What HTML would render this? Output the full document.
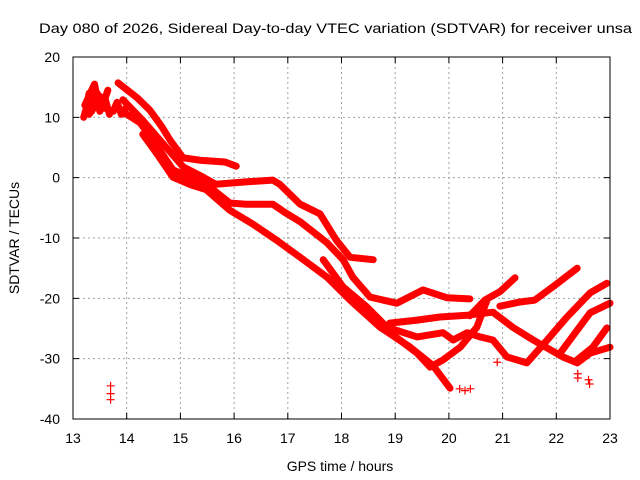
<!DOCTYPE html>
<html><head><meta charset="utf-8"><style>
html,body{margin:0;padding:0;background:#fff;}
svg{display:block;font-family:"Liberation Sans",sans-serif;}
</style></head><body>
<svg id="chart" width="640" height="480" viewBox="0 0 640 480">
<rect width="640" height="480" fill="#fff"/>
<text x="39" y="33" font-size="14" textLength="593" lengthAdjust="spacingAndGlyphs">Day 080 of 2026, Sidereal Day-to-day VTEC variation (SDTVAR) for receiver unsa</text>
<g id="grid"></g>
<g id="series"></g>
<g id="axes"></g>
<text x="340" y="471" font-size="14" text-anchor="middle">GPS time / hours</text>
<text x="0" y="0" font-size="14" text-anchor="middle" transform="translate(19,238) rotate(-90)">SDTVAR / TECUs</text>
</svg>
<script>
const xTicks = [13,14,15,16,17,18,19,20,21,22,23];
const yTicks = [20,10,0,-10,-20,-30,-40];
const traceNames = ['trace-1','trace-2','trace-3','trace-4','trace-5','trace-6','trace-7','trace-8','trace-9','trace-10','trace-11','blob-a','blob-b','blob-c','blob-d','blob-e'];
const traceHours = [
 [13.84,14.2,14.43,14.65,14.81,15.05,15.36,15.83,16.04],
 [13.93,14.3,14.62,15.05,15.4,15.66,16.22,16.72,16.85,17.23,17.60,17.90,18.16,18.59],
 [13.88,14.25,14.49,14.86,15.10,15.61,15.92,16.22,16.72,16.97,17.23,17.73,18.03,18.21,18.53,19.03,19.52,19.96,20.39],
 [14.30,14.6,14.86,15.2,15.48,15.92,16.35,16.78,17.23,17.73,18.16,18.72,19.28,19.70,20.02],
 [17.66,18.03,18.47,18.85,19.41,19.89,20.08,20.34,20.58,20.82,21.08,21.45,21.83,22.20,22.63,22.94],
 [17.84,18.21,18.77,19.41,19.65,19.89,20.21,20.52,20.71],
 [18.90,19.41,19.83,20.34,20.82,21.19,21.57,22.12,22.39,22.63,23.0],
 [20.39,20.67,20.95,21.23],
 [20.95,21.32,21.60,21.98,22.39],
 [22.07,22.63,23.0],
 [22.39,22.68,22.94],
 [13.2,13.3,13.35,13.45,13.55,13.65],
 [13.22,13.4,13.5,13.6,13.68],
 [13.75,13.82,13.9,13.98],
 [13.25,13.3,13.42,13.5,13.62],
 [13.3,13.38,13.48,13.58]
];
const traceValues = [
 [15.7,13.2,11.2,8.5,6.2,3.3,2.9,2.6,1.9],
 [12.9,9.5,6.2,1.8,0.2,-1.1,-0.7,-0.4,-1.1,-4.4,-6.0,-10.3,-13.2,-13.6],
 [11.2,9.1,6.2,1.3,0.4,-2.0,-4.2,-4.4,-4.4,-5.9,-7.3,-10.8,-13.6,-16.5,-19.8,-20.8,-18.6,-19.9,-20.1],
 [7.2,3.5,0.1,-1.2,-2.0,-5.4,-7.7,-10.3,-13.2,-16.5,-20.3,-24.8,-28.1,-31.1,-34.9],
 [-13.6,-18.1,-21.4,-24.8,-26.4,-25.7,-26.9,-25.7,-26.4,-26.9,-29.7,-30.7,-26.9,-23.1,-19.1,-17.5],
 [-17.0,-20.3,-24.8,-29.1,-31.4,-30.2,-28.1,-24.8,-20.3],
 [-24.1,-23.6,-23.1,-22.8,-22.3,-24.8,-26.9,-29.7,-30.7,-29.1,-28.1],
 [-22.9,-20.3,-18.9,-16.6],
 [-21.3,-20.6,-20.3,-17.8,-15.0],
 [-29.1,-22.4,-20.8],
 [-30.2,-28.1,-24.9],
 [10,13,11,14,12,14.5],
 [12,15.5,11,13,10.5],
 [11,12.5,10.5,11.5],
 [11.5,14,12.5,13.5,12],
 [10.5,11.5,13,11.5]
];
const pointHours = [13.7,13.7,13.7,20.2,20.3,20.4,20.9,22.4,22.4,22.6,22.62];
const pointValues = [-34.5,-35.8,-36.8,-35,-35.3,-35,-30.6,-32.5,-33.2,-33.5,-34.2];

const X0=73, X1=610, Y0=419, Y1=57;
function xs(h){return X0+(h-13)/(23-13)*(X1-X0);}
function ys(v){return Y0-(v-(-40))/(20-(-40))*(Y0-Y1);}
const NS='http://www.w3.org/2000/svg';
function mk(t,a){const e=document.createElementNS(NS,t);for(const k in a)e.setAttribute(k,a[k]);return e;}
const grid=document.getElementById('grid'), axes=document.getElementById('axes'), ser=document.getElementById('series');

xTicks.forEach((t,i)=>{
 const x=xs(t);
 if(i>0&&i<xTicks.length-1){const g=mk('line',{x1:x,x2:x,y1:Y1,y2:Y0,stroke:'#a0a0a0','stroke-dasharray':'2,3','stroke-width':1});
 
 
 grid.appendChild(g);}
 const tk=mk('path',{d:`M${x},${Y0}v-6M${x},${Y1}v6`,stroke:'#000','stroke-width':1});
 
 
 axes.appendChild(tk);
 const lb=mk('text',{x:x,y:443,'font-size':14,'text-anchor':'middle'});lb.textContent=t;
 
 
 axes.appendChild(lb);
});
yTicks.forEach((t,i)=>{
 const y=ys(t);
 if(i>0&&i<yTicks.length-1){const g=mk('line',{x1:X0,x2:X1,y1:y,y2:y,stroke:'#a0a0a0','stroke-dasharray':'2,3','stroke-width':1});
 
 
 grid.appendChild(g);}
 const tk=mk('path',{d:`M${X0},${y}h6M${X1},${y}h-6`,stroke:'#000','stroke-width':1});
 
 
 axes.appendChild(tk);
 const lb=mk('text',{x:60,y:y+5,'font-size':14,'text-anchor':'end'});lb.textContent=t;
 
 
 axes.appendChild(lb);
});
const fr=mk('rect',{x:X0,y:Y1,width:X1-X0,height:Y0-Y1,fill:'none',stroke:'#000','stroke-width':1});


axes.appendChild(fr);

traceHours.forEach((hs,i)=>{
 const pts=hs.map((h,j)=>xs(h).toFixed(1)+','+ys(traceValues[i][j]).toFixed(1)).join(' ');
 const pl=mk('polyline',{points:pts,fill:'none',stroke:'#f00','stroke-width':7,'stroke-linejoin':'round','stroke-linecap':'round'});
 
 
 ser.appendChild(pl);
});
pointHours.forEach((h,i)=>{
 const x=xs(h),y=ys(pointValues[i]);
 const p=mk('path',{d:`M${x-4},${y}h8M${x},${y-4}v8`,stroke:'#f00','stroke-width':1.2});
 
 
 ser.appendChild(p);
});
</script>
</body></html>
